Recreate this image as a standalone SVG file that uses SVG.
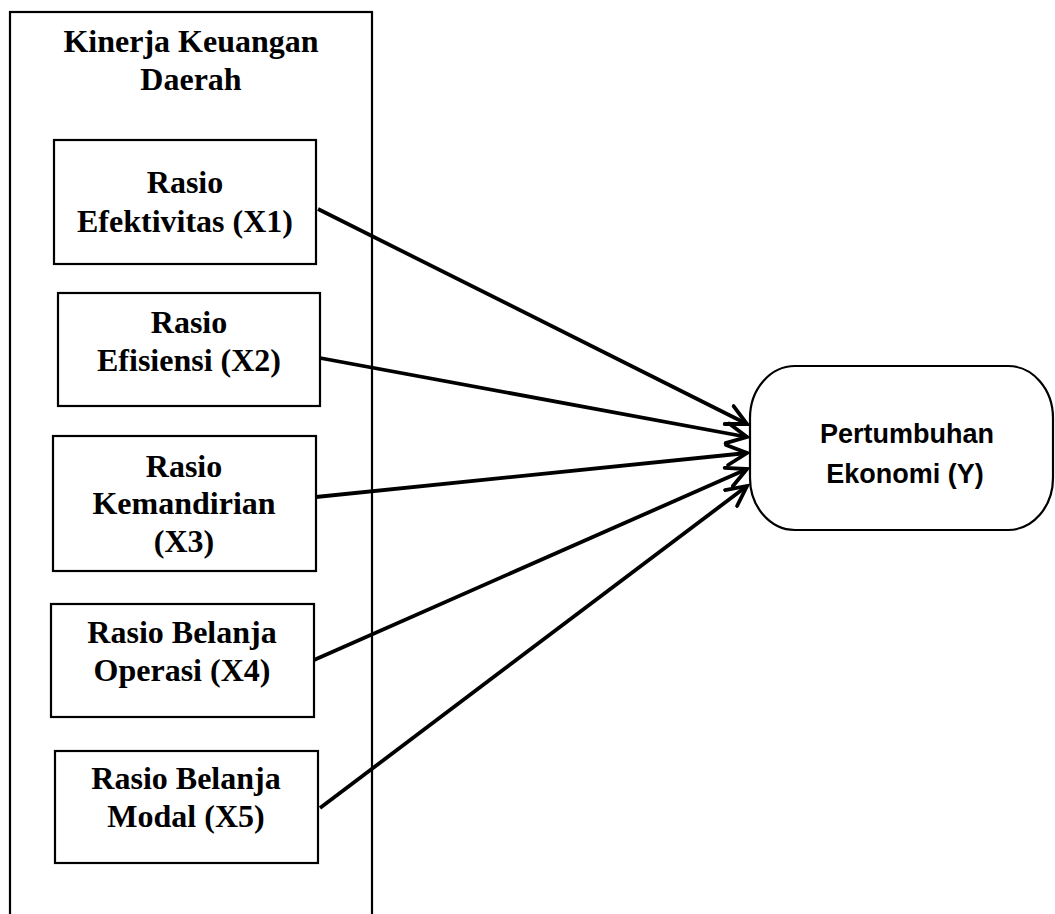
<svg xmlns="http://www.w3.org/2000/svg" width="1055" height="914" viewBox="0 0 1055 914">
<style>
.box{fill:#fff;stroke:#000;stroke-width:2.2}
.t{font-family:"Liberation Serif","Times New Roman",serif;font-weight:bold;font-size:32px;text-anchor:middle;fill:#000}
.s{font-family:"Liberation Sans",Arial,sans-serif;font-weight:bold;font-size:27px;text-anchor:middle;fill:#000}
.c{fill:none;stroke:#000;stroke-width:3.8}
</style>
<defs>
<marker id="arr" markerUnits="userSpaceOnUse" markerWidth="30" markerHeight="30" refX="22" refY="12" orient="auto" viewBox="0 0 30 24">
<path d="M2,2 L22,12 L2,22" fill="none" stroke="#000" stroke-width="3.8" stroke-linecap="round" stroke-linejoin="miter"/>
</marker>
</defs>
<g id="container">
<rect class="box" x="10" y="12" width="362" height="920"/>
<text class="t" x="191" y="52">Kinerja Keuangan</text>
<text class="t" x="191" y="90">Daerah</text>
</g>
<g id="x1">
<rect class="box" x="54" y="140" width="262" height="124"/>
<text class="t" x="185" y="193">Rasio</text>
<text class="t" x="185" y="232">Efektivitas (X1)</text>
</g>
<g id="x2">
<rect class="box" x="58" y="293" width="262" height="113"/>
<text class="t" x="189" y="333">Rasio</text>
<text class="t" x="189" y="371">Efisiensi (X2)</text>
</g>
<g id="x3">
<rect class="box" x="53" y="436" width="263" height="135"/>
<text class="t" x="184" y="477">Rasio</text>
<text class="t" x="184" y="514">Kemandirian</text>
<text class="t" x="184" y="552">(X3)</text>
</g>
<g id="x4">
<rect class="box" x="51" y="604" width="263" height="113"/>
<text class="t" x="182" y="643">Rasio Belanja</text>
<text class="t" x="182" y="681">Operasi (X4)</text>
</g>
<g id="x5">
<rect class="box" x="55" y="751" width="263" height="112"/>
<text class="t" x="186" y="789">Rasio Belanja</text>
<text class="t" x="186" y="827">Modal (X5)</text>
</g>
<g id="y">
<rect class="box" x="750" y="366" width="303" height="164" rx="45" ry="52"/>
<text class="s" x="907" y="443">Pertumbuhan</text>
<text class="s" x="905" y="483">Ekonomi (Y)</text>
</g>
<g id="connectors">
<line class="c" x1="318" y1="209" x2="747" y2="424" marker-end="url(#arr)"/>
<line class="c" x1="320" y1="358" x2="747" y2="437" marker-end="url(#arr)"/>
<line class="c" x1="316" y1="497" x2="747" y2="453" marker-end="url(#arr)"/>
<line class="c" x1="314" y1="660" x2="747" y2="469" marker-end="url(#arr)"/>
<line class="c" x1="320" y1="808" x2="747" y2="486" marker-end="url(#arr)"/>
</g>
</svg>
